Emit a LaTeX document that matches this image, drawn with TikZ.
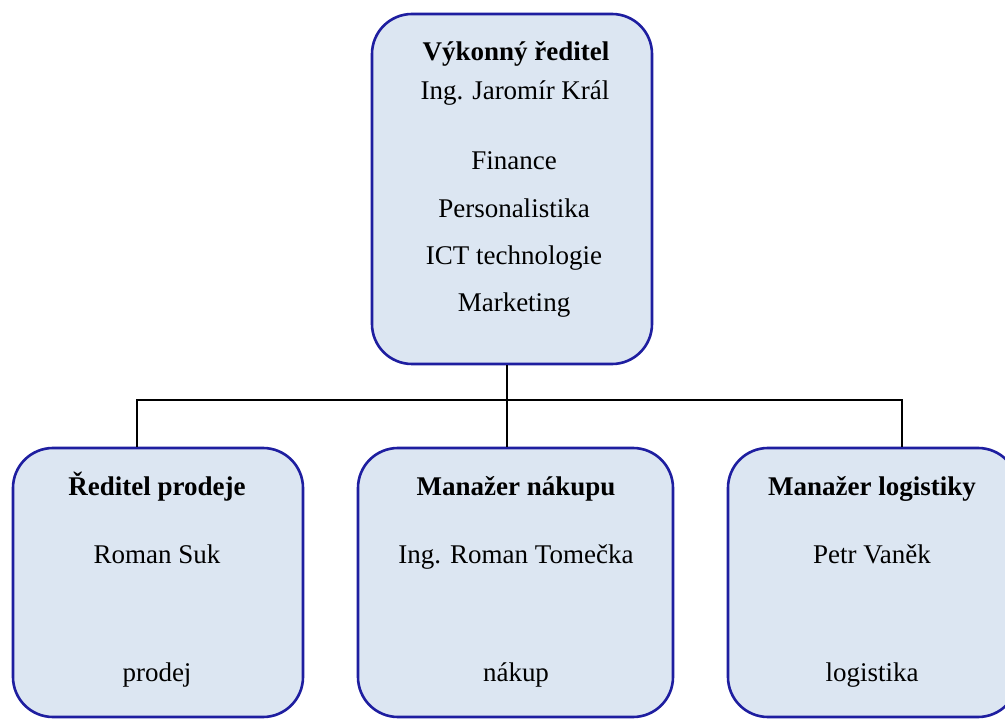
\documentclass[tikz,border=0pt]{standalone}
\usepackage{fontspec}
\setmainfont{Liberation Serif}
\definecolor{boxfill}{RGB}{220,230,242}
\definecolor{boxline}{RGB}{30,30,160}
\tikzset{
  orgbox/.style={draw=boxline, fill=boxfill, line width=2.6pt, rounded corners=40pt, inner sep=0pt},
  title/.style={font=\fontsize{27}{32}\selectfont\bfseries, text height=19pt, text depth=6pt, inner sep=0pt},
  plain/.style={font=\fontsize{27}{32}\selectfont, text height=19pt, text depth=6pt, inner sep=0pt},
  conn/.style={draw=black, line width=2.6pt}
}
\begin{document}
\begin{tikzpicture}[x=1pt,y=-1pt]
\clip (0,0) rectangle (1005,719);
\fill[white] (0,0) rectangle (1005,719);
% boxes
\node[orgbox, minimum width=280pt, minimum height=350pt] (top) at (512,189) {};
\node[orgbox, minimum width=290pt, minimum height=269pt] (left) at (158,582.5) {};
\node[orgbox, minimum width=315pt, minimum height=269pt] (mid) at (515.5,582.5) {};
\node[orgbox, minimum width=290pt, minimum height=269pt] (right) at (873,582.5) {};
% connectors
\coordinate (jl) at (137,400);
\coordinate (jm) at (507,400);
\coordinate (jr) at (902,400);
\draw[conn] (jm |- top.south) -- (jm);
\draw[conn] (jl |- left.north) -- (jl) -- (jr) -- (jr |- right.north);
\draw[conn] (jm) -- (jm |- mid.north);
% top texts
\node[title] (t1) at (516,54) {Výkonný ředitel};
\node[plain] (t2) at (515,93) {Ing. Jaromír Král};
\node[plain] (t3) at (514,163) {Finance};
\node[plain] (t4) at (514,211) {Personalistika};
\node[plain] (t5) at (514,258) {ICT technologie};
\node[plain] (t6) at (514,305) {Marketing};
% left
\node[title] (l1) at (157,489) {Ředitel prodeje};
\node[plain] (l2) at (157,557) {Roman Suk};
\node[plain] (l3) at (157,675) {prodej};
% middle
\node[title] (m1) at (516,489) {Manažer nákupu};
\node[plain] (m2) at (516,557) {Ing. Roman Tomečka};
\node[plain] (m3) at (516,675) {nákup};
% right
\node[title] (r1) at (872,489) {Manažer logistiky};
\node[plain] (r2) at (872,557) {Petr Vaněk};
\node[plain] (r3) at (872,675) {logistika};
\end{tikzpicture}
\end{document}
